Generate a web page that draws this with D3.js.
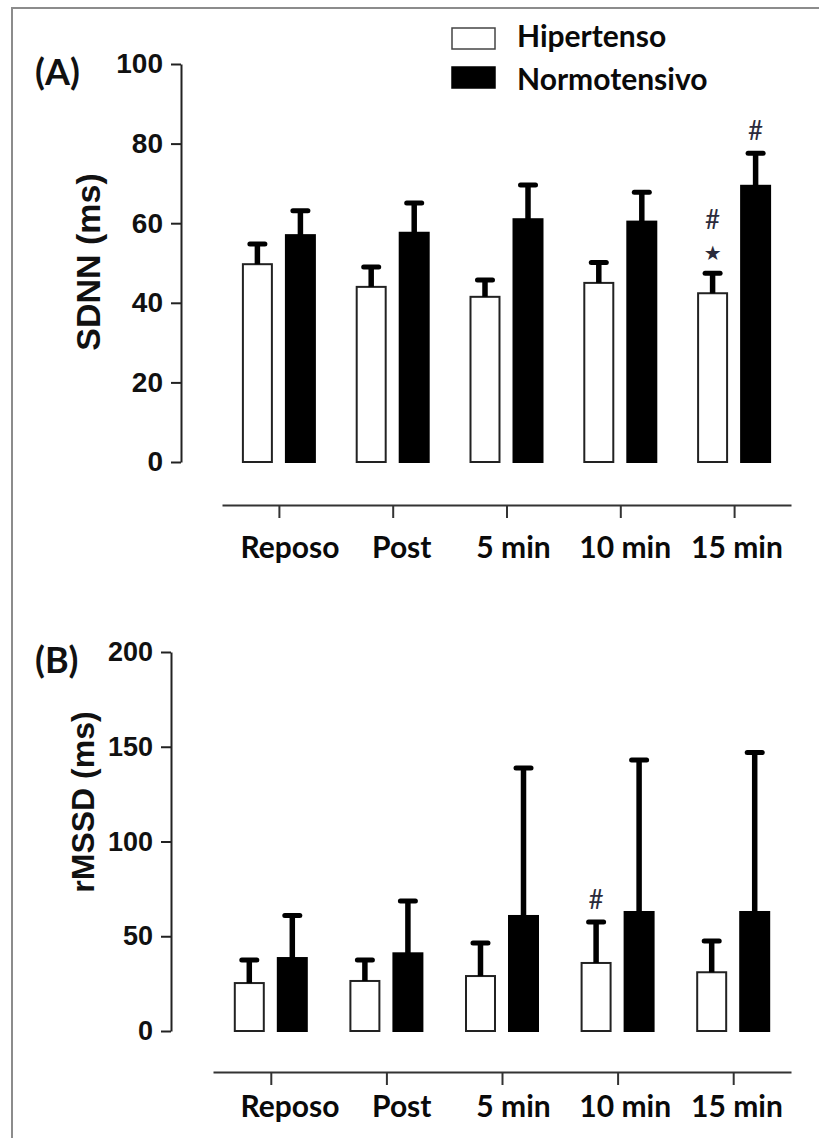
<!DOCTYPE html>
<html>
<head>
<meta charset="utf-8">
<script src="https://cdn.jsdelivr.net/npm/d3@7"></script>
<style>
  html, body { margin: 0; padding: 0; background: #fff; }
  svg { display: block; }
</style>
</head>
<body>
<svg id="fig" width="819" height="1138"></svg>
<script>
// ---- data -------------------------------------------------------------
const categories = ["Reposo", "Post", "5 min", "10 min", "15 min"];
const seriesNames = ["Hipertenso", "Normotensivo"];

// SDNN (ms): mean and SD per moment
const sdnnHipMean = [49.7, 44.0, 41.5, 45.0, 42.4];
const sdnnHipSD   = [5.1, 5.0, 4.2, 5.1, 5.0];
const sdnnNorMean = [57.0, 57.6, 61.0, 60.4, 69.4];
const sdnnNorSD   = [6.1, 7.5, 8.6, 7.4, 8.2];

// rMSSD (ms): mean and SD per moment
const rmssdHipMean = [25.3, 26.4, 29.0, 35.9, 31.0];
const rmssdHipSD   = [12.2, 11.1, 17.4, 21.6, 16.5];
const rmssdNorMean = [38.5, 41.0, 60.7, 62.8, 62.8];
const rmssdNorSD   = [22.5, 27.6, 78.1, 80.2, 84.2];

const sdnnTicks  = [0, 20, 40, 60, 80, 100];
const rmssdTicks = [0, 50, 100, 150, 200];

// significance symbols (bottom to top) above the error bars
const sdnnMarks  = [
  { cat: "15 min", series: "Hipertenso",   symbols: ["★", "#"] },
  { cat: "15 min", series: "Normotensivo", symbols: ["#"] }
];
const rmssdMarks = [
  { cat: "10 min", series: "Hipertenso",   symbols: ["#"] }
];

// ---- drawing ----------------------------------------------------------
const svg = d3.select("#fig");
svg.append("rect").attr("width", 819).attr("height", 1138).attr("fill", "#fff");

// outer frame (left and top edges)
svg.append("path")
  .attr("d", "M12,1138V8H819")
  .attr("fill", "none").attr("stroke", "#8c8c8c").attr("stroke-width", 2);

const LABEL_FONT = "Lato, 'Open Sans', sans-serif";
const NUM_FONT = "'Liberation Sans', Arial, sans-serif";

// category label positions shared by both panels
const labelX = d3.scalePoint().domain(categories).range([290, 737]);

function drawPanel(cfg) {
  const g = svg.append("g");

  const y = d3.scaleLinear().domain([0, cfg.yMax]).range([cfg.yBottom, cfg.yTop]);
  const x = d3.scalePoint().domain(categories).range([cfg.xLeft, cfg.xRight]).padding(0.5);
  const x1 = d3.scaleBand().domain(seriesNames).range([-36, 36]).paddingInner(0.326);

  // y axis
  g.append("g")
    .attr("transform", `translate(${cfg.axisX},0)`)
    .call(d3.axisLeft(y).tickValues(cfg.ticks).tickSize(10).tickSizeOuter(0).tickPadding(8))
    .call(s => s.attr("font-family", NUM_FONT).attr("font-size", cfg.tickFont).attr("font-weight", "bold"))
    .call(s => s.selectAll("text").attr("fill", "#111"))
    .call(s => s.selectAll("path, line").attr("stroke", "#222").attr("stroke-width", 2));

  // detached category axis
  g.append("g")
    .attr("transform", `translate(0,${cfg.xAxisY})`)
    .call(d3.axisBottom(x).tickSize(13).tickSizeOuter(0).tickFormat(""))
    .call(s => s.selectAll("path, line").attr("stroke", "#333").attr("stroke-width", 2));

  g.append("g").selectAll("text")
    .data(categories)
    .join("text")
    .attr("x", d => labelX(d))
    .attr("y", cfg.labelY)
    .attr("text-anchor", "middle")
    .attr("font-family", LABEL_FONT)
    .attr("font-weight", "bold")
    .attr("font-size", 30)
    .attr("fill", "#0a0a0a")
    .text(d => d);

  // y title
  g.append("text")
    .attr("transform", `translate(${cfg.titleX},${cfg.titleY}) rotate(-90)`)
    .attr("text-anchor", "middle")
    .attr("font-family", NUM_FONT)
    .attr("font-weight", "bold")
    .attr("font-size", cfg.titleFont)
    .attr("fill", "#111")
    .text(cfg.title);

  // panel tag
  g.append("text")
    .attr("x", 35).attr("y", cfg.tagY)
    .attr("font-family", LABEL_FONT)
    .attr("font-weight", "bold")
    .attr("font-size", 36)
    .attr("fill", "#111")
    .text(cfg.tag);

  const rows = categories.map((c, i) => ({
    cat: c,
    values: [
      { series: "Hipertenso",   mean: cfg.hipMean[i], sd: cfg.hipSD[i] },
      { series: "Normotensivo", mean: cfg.norMean[i], sd: cfg.norSD[i] }
    ]
  }));

  const grp = g.append("g").selectAll("g")
    .data(rows)
    .join("g")
    .attr("transform", d => `translate(${x(d.cat)},0)`);

  const item = grp.selectAll("g")
    .data(d => d.values)
    .join("g");

  // bars
  item.append("rect")
    .attr("x", d => x1(d.series))
    .attr("width", x1.bandwidth())
    .attr("y", d => y(d.mean))
    .attr("height", d => y(0) - y(d.mean))
    .attr("fill", d => d.series === "Hipertenso" ? "#fff" : "#000")
    .attr("stroke", d => d.series === "Hipertenso" ? "#222" : "#000")
    .attr("stroke-width", 2);

  // upper error bars
  const cx = d => x1(d.series) + x1.bandwidth() / 2;
  item.append("line")
    .attr("x1", cx).attr("x2", cx)
    .attr("y1", d => y(d.mean)).attr("y2", d => y(d.mean + d.sd))
    .attr("stroke", "#000").attr("stroke-width", 5.5);
  item.append("line")
    .attr("x1", d => cx(d) - 7.5).attr("x2", d => cx(d) + 7.5)
    .attr("y1", d => y(d.mean + d.sd)).attr("y2", d => y(d.mean + d.sd))
    .attr("stroke", "#000").attr("stroke-width", 5).attr("stroke-linecap", "round");

  // significance symbols
  cfg.marks.forEach(m => {
    const i = categories.indexOf(m.cat);
    const mean = m.series === "Hipertenso" ? cfg.hipMean[i] : cfg.norMean[i];
    const sd = m.series === "Hipertenso" ? cfg.hipSD[i] : cfg.norSD[i];
    const px = x(m.cat) + x1(m.series) + x1.bandwidth() / 2;
    const top = y(mean + sd);
    m.symbols.forEach((sym, k) => {
      g.append("text")
        .attr("x", px)
        .attr("y", top - 13 - k * 31)
        .attr("text-anchor", "middle")
        .attr("font-family", sym === "★" ? "'DejaVu Sans', sans-serif" : LABEL_FONT)
        .attr("font-size", sym === "★" ? 20 : 26)
        .attr("fill", "#2b2b3b")
        .text(sym);
    });
  });
}

drawPanel({
  tag: "(A)", tagY: 85, title: "SDNN (ms)", titleX: 100, titleY: 262, titleFont: 34,
  yMax: 100, ticks: sdnnTicks, tickFont: 28,
  axisX: 181, yTop: 64, yBottom: 462,
  xLeft: 222, xRight: 791, xAxisY: 505, labelY: 558,
  hipMean: sdnnHipMean, hipSD: sdnnHipSD, norMean: sdnnNorMean, norSD: sdnnNorSD,
  marks: sdnnMarks
});

drawPanel({
  tag: "(B)", tagY: 673, title: "rMSSD (ms)", titleX: 94, titleY: 802, titleFont: 32,
  yMax: 200, ticks: rmssdTicks, tickFont: 27,
  axisX: 171, yTop: 652, yBottom: 1031,
  xLeft: 213, xRight: 791, xAxisY: 1072, labelY: 1117,
  hipMean: rmssdHipMean, hipSD: rmssdHipSD, norMean: rmssdNorMean, norSD: rmssdNorSD,
  marks: rmssdMarks
});

// legend
const legend = svg.append("g");
seriesNames.forEach((s, i) => {
  legend.append("rect")
    .attr("x", 452).attr("y", 28 + i * 39)
    .attr("width", 43).attr("height", 21)
    .attr("fill", s === "Hipertenso" ? "#fff" : "#000")
    .attr("stroke", s === "Hipertenso" ? "#444" : "#000")
    .attr("stroke-width", 1.5);
  legend.append("text")
    .attr("x", 517).attr("y", 47 + i * 43)
    .attr("font-family", LABEL_FONT)
    .attr("font-weight", "bold")
    .attr("font-size", 30)
    .attr("fill", "#0a0a0a")
    .text(s);
});
</script>
</body>
</html>
